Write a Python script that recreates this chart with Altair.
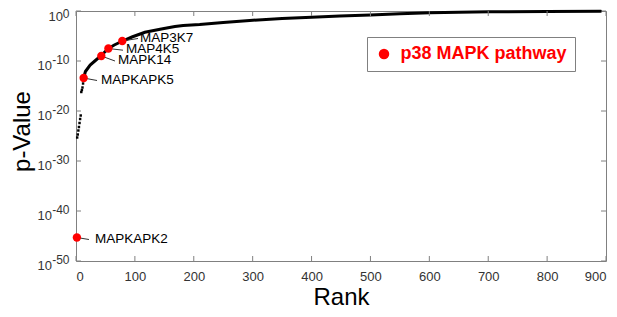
import altair as alt
import pandas as pd

# ---- data (p-values as log10) ----
early_rank = [2, 3, 4, 5, 6, 7, 8, 9, 10, 11, 12]
early_logp = [-25.3, -24.7, -23.9, -23.2, -22.4, -21.6, -20.9, -16.2, -15.8, -15.3, -14.5]

curve_rank = [13, 16, 24, 32, 42, 55, 65, 79, 95, 117, 145, 168, 182, 210, 250, 295,
              350, 400, 448, 500, 550, 601, 650, 703, 800, 891]
curve_logp = [-13.4, -12.1, -10.8, -10.0, -9.0, -7.5, -6.8, -6.0, -5.2, -4.25, -3.6, -3.1,
              -2.9, -2.7, -2.3, -1.9, -1.5, -1.25, -1.0, -0.8, -0.55, -0.35, -0.25, -0.15,
              -0.08, -0.05]

gene_names = ["MAPKAPK2", "MAPKAPK5", "MAPK14", "MAP4K5", "MAP3K7"]
gene_rank = [1.5, 13, 43, 55, 78.6]
gene_logp = [-45.3, -13.4, -9.0, -7.5, -6.0]
leader_rank = [22, 35.7, 66.2, 79.8, 105.3]
leader_logp = [-45.7, -13.9, -10.0, -7.84, -5.5]
label_rank = [32.3, 42.5, 71.3, 84.9, 108.7]
label_logp = [-45.5, -13.7, -9.8, -7.5, -5.4]
pathway = "p38 MAPK pathway"

x_ticks = [0, 100, 200, 300, 400, 500, 600, 700, 800, 900]
y_ticks = [0, -10, -20, -30, -40, -50]

# ---- layout / style ----
W, H = 530, 250
FONT = "Liberation Sans"
GREY = "#808080"
LABEL = "#333333"

early_df = pd.DataFrame({"rank": early_rank, "logp": early_logp})
curve_df = pd.DataFrame({"rank": curve_rank, "logp": curve_logp})
gene_df = pd.DataFrame({
    "gene": gene_names, "rank": gene_rank, "logp": gene_logp,
    "lr": leader_rank, "ll": leader_logp, "tr": label_rank, "tl": label_logp,
    "pathway": [pathway] * len(gene_names),
})
xt_df = pd.DataFrame({"t": x_ticks})
yt_df = pd.DataFrame({"e": y_ticks})

xs = alt.Scale(domain=[0, 900], nice=False, zero=False)
ys = alt.Scale(domain=[-50, 0], nice=False, zero=False)

x_axis = alt.Axis(values=x_ticks, grid=False, ticks=False, tickSize=0, domain=False,
                  labelFont=FONT, labelFontSize=13, labelColor=LABEL, labelPadding=15,
                  labelBaseline="middle", title="Rank", titleFont=FONT, titleFontSize=24,
                  titleFontWeight="normal", titleColor="black", titleY=43,
                  titleBaseline="alphabetic")
y_axis = alt.Axis(labels=False, grid=False, ticks=False, tickSize=0, domain=False,
                  title="p-Value", titleFont=FONT, titleFontSize=24,
                  titleFontWeight="normal", titleColor="black", titleAngle=270,
                  titleX=-47, titleY=120, titleAlign="center",
                  titleBaseline="alphabetic")


def X(field):
    return alt.X(field, scale=xs, axis=x_axis)


def Y(field):
    return alt.Y(field, scale=ys, axis=y_axis)


curve = alt.Chart(curve_df).mark_line(color="black", strokeWidth=3, strokeCap="round").encode(
    x=X("rank:Q"), y=Y("logp:Q"))

early = alt.Chart(early_df).mark_point(shape="square", filled=True, size=6, color="black",
                                       opacity=1).encode(x=X("rank:Q"), y=Y("logp:Q"))

# inward ticks on all four sides
tb = alt.Chart(xt_df).mark_rule(color=GREY, strokeWidth=1).encode(
    x=X("t:Q"), y=alt.value(H - 5), y2=alt.value(H))
tt = alt.Chart(xt_df).mark_rule(color=GREY, strokeWidth=1).encode(
    x=X("t:Q"), y=alt.value(0), y2=alt.value(5))
tl = alt.Chart(yt_df).mark_rule(color=GREY, strokeWidth=1).encode(
    y=Y("e:Q"), x=alt.value(0), x2=alt.value(5))
tr = alt.Chart(yt_df).mark_rule(color=GREY, strokeWidth=1).encode(
    y=Y("e:Q"), x=alt.value(W - 5), x2=alt.value(W))

# y tick labels: 10 with superscript exponent
base0 = alt.Chart(yt_df).transform_filter("datum.e == 0").mark_text(
    text="10", align="right", baseline="middle", dy=6, fontSize=13, font=FONT,
    color=LABEL).encode(y=Y("e:Q"), x=alt.value(-13))
baseN = alt.Chart(yt_df).transform_filter("datum.e != 0").mark_text(
    text="10", align="right", baseline="middle", dy=4.5, fontSize=13, font=FONT,
    color=LABEL).encode(y=Y("e:Q"), x=alt.value(-24))
expo0 = alt.Chart(yt_df).transform_filter("datum.e == 0").mark_text(
    text="0", align="right", baseline="middle", dy=2.5, fontSize=12, font=FONT,
    color=LABEL).encode(y=Y("e:Q"), x=alt.value(-6.5))
expoN = alt.Chart(yt_df).transform_filter("datum.e != 0").transform_calculate(
    lab="'' + datum.e").mark_text(
    align="right", baseline="middle", dy=-1.5, fontSize=12, font=FONT,
    color=LABEL).encode(y=Y("e:Q"), x=alt.value(-6.5), text="lab:N")

leaders = alt.Chart(gene_df).mark_rule(color="#333333", strokeWidth=1).encode(
    x=X("rank:Q"), x2="lr:Q", y=Y("logp:Q"), y2="ll:Q")

reds = alt.Chart(gene_df).mark_circle(size=70, opacity=1).encode(
    x=X("rank:Q"), y=Y("logp:Q"),
    color=alt.Color("pathway:N", scale=alt.Scale(range=["#ff0000"]),
                    legend=alt.Legend(title=None, orient="none", legendX=291, legendY=26,
                                      direction="vertical", padding=8,
                                      strokeColor=GREY, fillColor="white",
                                      labelFont=FONT, labelFontSize=18,
                                      labelFontWeight="bold", labelColor="#ff0000",
                                      labelOffset=7.5, labelLimit=400,
                                      symbolType="circle",
                                      symbolSize=110, symbolStrokeWidth=0,
                                      symbolOpacity=1)),
)

labels = alt.Chart(gene_df).mark_text(align="left", baseline="middle", fontSize=13.5,
                                      font=FONT, color="black").encode(
    x=X("tr:Q"), y=Y("tl:Q"), text="gene:N")

chart = alt.layer(curve, tb, tt, tl, tr, base0, baseN, expo0, expoN, early, leaders,
                  reds, labels).properties(
    width=W, height=H,
    autosize=alt.AutoSizeParams(type="none"),
    padding={"left": 68, "top": 3, "right": 3, "bottom": 48},
    background="white",
).configure_view(stroke=GREY, strokeWidth=1)

chart.save("out.html", embed_options={"renderer": "svg", "actions": False})
